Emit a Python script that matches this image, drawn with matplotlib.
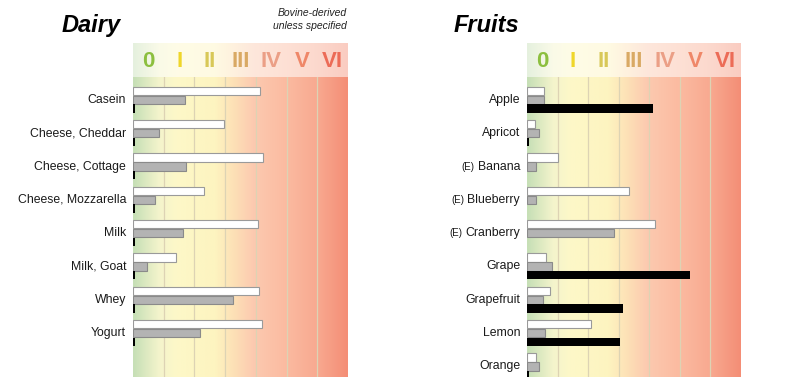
import matplotlib
matplotlib.use('Agg')
import matplotlib.pyplot as plt
import numpy as np
from matplotlib.colors import LinearSegmentedColormap, to_rgb

plt.rcParams['font.family'] = ['Liberation Sans', 'DejaVu Sans']

# scale columns
levels = ["0", "I", "II", "III", "IV", "V", "VI"]
level_colors = ["#8cbf3f", "#efd62a", "#d8c858", "#d9a964", "#eb9f86", "#ef8768", "#ec6b57"]

# Dairy
dairy_items = ["Casein", "Cheese, Cheddar", "Cheese, Cottage", "Cheese, Mozzarella",
               "Milk", "Milk, Goat", "Whey", "Yogurt"]
dairy_white = [4.14, 2.97, 4.24, 2.31, 4.07, 1.40, 4.11, 4.21]
dairy_gray = [1.70, 0.86, 1.72, 0.72, 1.62, 0.45, 3.24, 2.18]
dairy_black = [0.05, 0.05, 0.05, 0.05, 0.05, 0.05, 0.05, 0.05]

# Fruits
fruit_items = ["Apple", "Apricot", "Banana", "Blueberry", "Cranberry",
               "Grape", "Grapefruit", "Lemon", "Orange"]
fruit_est = [False, False, True, True, True, False, False, False, False]
fruit_white = [0.54, 0.26, 1.00, 3.35, 4.18, 0.61, 0.75, 2.08, 0.30]
fruit_gray = [0.57, 0.38, 0.30, 0.30, 2.83, 0.83, 0.52, 0.59, 0.40]
fruit_black = [4.11, 0.05, 0.0, 0.0, 0.0, 5.33, 3.15, 3.03, 0.05]

W, H = 796, 377
fig = plt.figure(figsize=(W / 100, H / 100), dpi=100)

stops = [(0.0, "#c6dfb6"), (0.12, "#f4f4cc"), (0.2, "#fdf8c8"), (0.38, "#fdf4c0"),
         (0.47, "#fde0b6"), (0.56, "#fccab0"), (0.72, "#fbbaa0"), (0.86, "#f8a990"),
         (1.0, "#f48e76")]
body_cmap = LinearSegmentedColormap.from_list("body", stops)
head_stops = [(p, tuple(0.45 * np.array(to_rgb(c)) + 0.55)) for p, c in stops]
head_cmap = LinearSegmentedColormap.from_list("head", head_stops)
grad = np.linspace(0, 1, 400).reshape(1, -1)


def px_axes(x0, x1, y0, y1):
    return fig.add_axes([x0 / W, 1 - y1 / H, (x1 - x0) / W, (y1 - y0) / H])


def panel(x0, x1, items, white, gray, black, est=None):
    hax = px_axes(x0, x1, 43, 77)
    hax.imshow(grad, cmap=head_cmap, aspect='auto', extent=[0, 7, 0, 1])
    for i, (lv, c) in enumerate(zip(levels, level_colors)):
        hax.text(i + 0.5, 0.47, lv, color=c, fontsize=16, fontweight='bold',
                 ha='center', va='center')
    hax.set_xlim(0, 7)
    hax.set_ylim(0, 1)
    hax.axis('off')

    ax = px_axes(x0, x1, 77, 377)
    ax.imshow(grad, cmap=body_cmap, aspect='auto', extent=[0, 7, 8.32, -0.69], zorder=0)
    for k in range(1, 7):
        ax.axvline(k, color="#ddd3b4", lw=0.9, zorder=1)
    y = np.arange(len(items))
    h = 0.25
    ax.barh(y - 0.27, white, height=h, color='white', edgecolor='#9a9a9a', lw=0.8, zorder=3)
    ax.barh(y, gray, height=h, color='#b3b3b3', edgecolor='#8a8a8a', lw=0.8, zorder=3)
    ax.barh(y + 0.26, black, height=h, color='black', lw=0, zorder=3)
    ax.set_xlim(0, 7)
    ax.set_ylim(8.32, -0.69)
    ax.axis('off')

    labels = []
    for i, name in enumerate(items):
        t = ax.annotate(name, xy=(0, i), xytext=(-5, 0), textcoords='offset points',
                        ha='right', va='center', fontsize=8.8, color='#1a1a1a')
        labels.append(t)
    if est is not None:
        fig.canvas.draw()
        r = fig.canvas.get_renderer()
        for i, flag in enumerate(est):
            if flag:
                bb = labels[i].get_window_extent(r)
                fig.text((bb.x0 - 3) / W, (bb.y0 + bb.y1) / 2 / H, "(E)", fontsize=7,
                         ha='right', va='center', color='#1a1a1a')
    return ax


panel(133, 348, dairy_items, dairy_white, dairy_gray, dairy_black)
panel(527, 741, fruit_items, fruit_white, fruit_gray, fruit_black, est=fruit_est)

fig.text(121 / W, 1 - 32 / H, "Dairy", fontsize=17, fontweight='bold', style='italic',
         ha='right', va='baseline', color='black')
fig.text(519 / W, 1 - 32 / H, "Fruits", fontsize=17, fontweight='bold', style='italic',
         ha='right', va='baseline', color='black')
fig.text(347 / W, 1 - 16 / H, "Bovine-derived", fontsize=7.5, style='italic',
         ha='right', va='baseline', color='#222222')
fig.text(347 / W, 1 - 29 / H, "unless specified", fontsize=7.5, style='italic',
         ha='right', va='baseline', color='#222222')

plt.savefig('out.png', dpi=100)
plt.close()
